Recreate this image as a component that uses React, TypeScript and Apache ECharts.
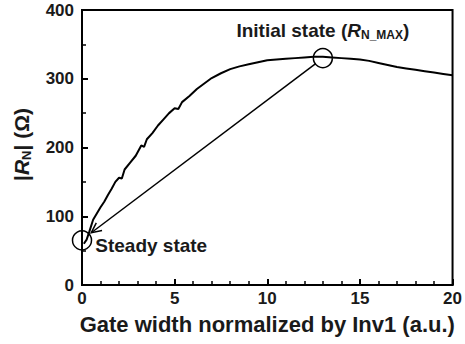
import React, { useEffect, useRef } from "react";
import * as echarts from "echarts";

const curveX = [0.1, 0.25, 0.4, 0.6, 0.8, 1.0, 1.2, 1.4, 1.6, 1.8, 2.0, 2.15, 2.3, 2.6, 2.9, 3.2, 3.35, 3.5, 3.8, 4.1, 4.4, 4.7, 5.0, 5.2, 5.4, 5.8, 6.2, 6.6, 7.0, 7.5, 8.0, 8.5, 9.0, 9.5, 10, 10.5, 11, 11.5, 12, 12.5, 13, 13.5, 14, 14.5, 15, 15.5, 16, 16.5, 17, 17.5, 18, 18.5, 19, 19.5, 20];
const curveY = [60, 66, 78, 95, 104, 113, 121, 131, 140, 150, 156, 155, 168, 178, 188, 203, 201, 212, 221, 232, 241, 250, 257, 256, 266, 275, 285, 293, 301, 308, 314, 318, 321, 324, 327, 328, 329, 330, 331, 332, 332, 331, 330, 329, 328, 326, 323, 320, 317, 315, 313, 311, 309, 307, 305];

const initialState = [13, 330];
const steadyState = [0, 65];
const arrowFrom = [13, 330];
const arrowTo = [0.5, 76];

const xTicks = [0, 5, 10, 15, 20];
const yTicks = [0, 100, 200, 300, 400];

const FONT = "'Liberation Sans', Arial, sans-serif";
const TXT = "#1a1a1a";

export default function App() {
  const ref = useRef<HTMLDivElement>(null);
  useEffect(() => {
    if (!ref.current) return;
    const chart = echarts.init(ref.current, null, { renderer: "svg" });
    chart.setOption({
      animation: false,
      backgroundColor: "#fff",
      grid: {
        left: 82,
        top: 10,
        right: 9,
        bottom: 59,
        show: true,
        borderColor: "#000",
        borderWidth: 2,
        backgroundColor: "transparent",
      },
      xAxis: {
        type: "value",
        min: xTicks[0],
        max: xTicks[xTicks.length - 1],
        interval: 5,
        name: "Gate width normalized by Inv1 (a.u.)",
        nameLocation: "middle",
        nameGap: 28,
        nameTextStyle: { fontFamily: FONT, fontWeight: "bold", fontSize: 22, color: TXT },
        axisLine: { show: true, lineStyle: { color: "#000", width: 2 } },
        axisTick: { show: true, inside: true, length: 6, lineStyle: { color: "#000", width: 2 } },
        minorTick: { show: true, splitNumber: 5, length: 4, lineStyle: { color: "#000", width: 1.5 } },
        splitLine: { show: false },
        axisLabel: { fontFamily: FONT, fontWeight: "bold", fontSize: 17, color: TXT, margin: 5 },
      },
      yAxis: {
        type: "value",
        min: yTicks[0],
        max: yTicks[yTicks.length - 1],
        interval: 100,
        name: "{a||}{i|R}{s|N}{a|| (Ω)}",
        nameLocation: "middle",
        nameGap: 49,
        nameTextStyle: {
          fontFamily: FONT,
          fontWeight: "bold",
          fontSize: 21,
          color: TXT,
          padding: [0, 0, 0, 6],
          rich: {
            a: { fontFamily: FONT, fontWeight: "bold", fontSize: 21, color: TXT },
            i: { fontFamily: FONT, fontWeight: "bold", fontStyle: "italic", fontSize: 21, color: TXT },
            s: { fontFamily: FONT, fontWeight: "bold", fontSize: 13, color: TXT, verticalAlign: "bottom", padding: [10, 0, 0, 0] },
          },
        },
        axisLine: { show: true, lineStyle: { color: "#000", width: 2 } },
        axisTick: { show: true, inside: true, length: 6, lineStyle: { color: "#000", width: 2 } },
        minorTick: { show: true, splitNumber: 2, length: 4, lineStyle: { color: "#000", width: 1.5 } },
        splitLine: { show: false },
        axisLabel: { fontFamily: FONT, fontWeight: "bold", fontSize: 17, color: TXT, margin: 8 },
      },
      series: [
        {
          type: "line",
          data: curveX.map((x, i) => [x, curveY[i]]),
          showSymbol: false,
          lineStyle: { color: "#000", width: 2 },
          silent: true,
          z: 2,
        },
        {
          type: "custom",
          data: [[arrowFrom[0], arrowFrom[1], arrowTo[0], arrowTo[1]]],
          renderItem: (params: any, api: any) => {
            const p1 = api.coord([api.value(0), api.value(1)]);
            const p2 = api.coord([api.value(2), api.value(3)]);
            const dx = p2[0] - p1[0];
            const dy = p2[1] - p1[1];
            const len = Math.sqrt(dx * dx + dy * dy);
            const ux = dx / len;
            const uy = dy / len;
            const start = [p1[0] + ux * 9, p1[1] + uy * 9];
            const ang = Math.atan2(-uy, -ux);
            const hl = 11;
            const spread = 0.45;
            const a1 = [p2[0] + hl * Math.cos(ang + spread), p2[1] + hl * Math.sin(ang + spread)];
            const a2 = [p2[0] + hl * Math.cos(ang - spread), p2[1] + hl * Math.sin(ang - spread)];
            return {
              type: "group",
              children: [
                {
                  type: "line",
                  shape: { x1: start[0], y1: start[1], x2: p2[0], y2: p2[1] },
                  style: { stroke: "#000", lineWidth: 1.5 },
                },
                {
                  type: "polyline",
                  shape: { points: [a1, p2, a2] },
                  style: { stroke: "#000", lineWidth: 1.5, fill: "none" },
                },
              ],
            };
          },
          silent: true,
          z: 3,
        },
        {
          type: "scatter",
          symbol: "circle",
          symbolSize: 19,
          itemStyle: { color: "rgba(0,0,0,0)", borderColor: "#000", borderWidth: 1.5, opacity: 1 },
          silent: true,
          z: 4,
          data: [
            {
              value: initialState,
              label: {
                show: true,
                position: "top",
                distance: 7,
                formatter: "{a|Initial state (}{i|R}{s|N_MAX}{a|)}",
                rich: {
                  a: { fontFamily: FONT, fontWeight: "bold", fontSize: 19, color: TXT },
                  i: { fontFamily: FONT, fontWeight: "bold", fontStyle: "italic", fontSize: 19, color: TXT },
                  s: { fontFamily: FONT, fontWeight: "bold", fontSize: 12, color: TXT, verticalAlign: "bottom", padding: [9, 0, 0, 0] },
                },
              },
            },
            {
              value: steadyState,
              label: {
                show: true,
                position: "right",
                distance: 3,
                offset: [0, 5],
                formatter: "Steady state",
                fontFamily: FONT,
                fontWeight: "bold",
                fontSize: 19,
                color: TXT,
              },
            },
          ],
        },
      ],
    });
    return () => chart.dispose();
  }, []);
  return <div ref={ref} style={{ width: 465, height: 344, position: "absolute", left: 0, top: 0 }} />;
}
